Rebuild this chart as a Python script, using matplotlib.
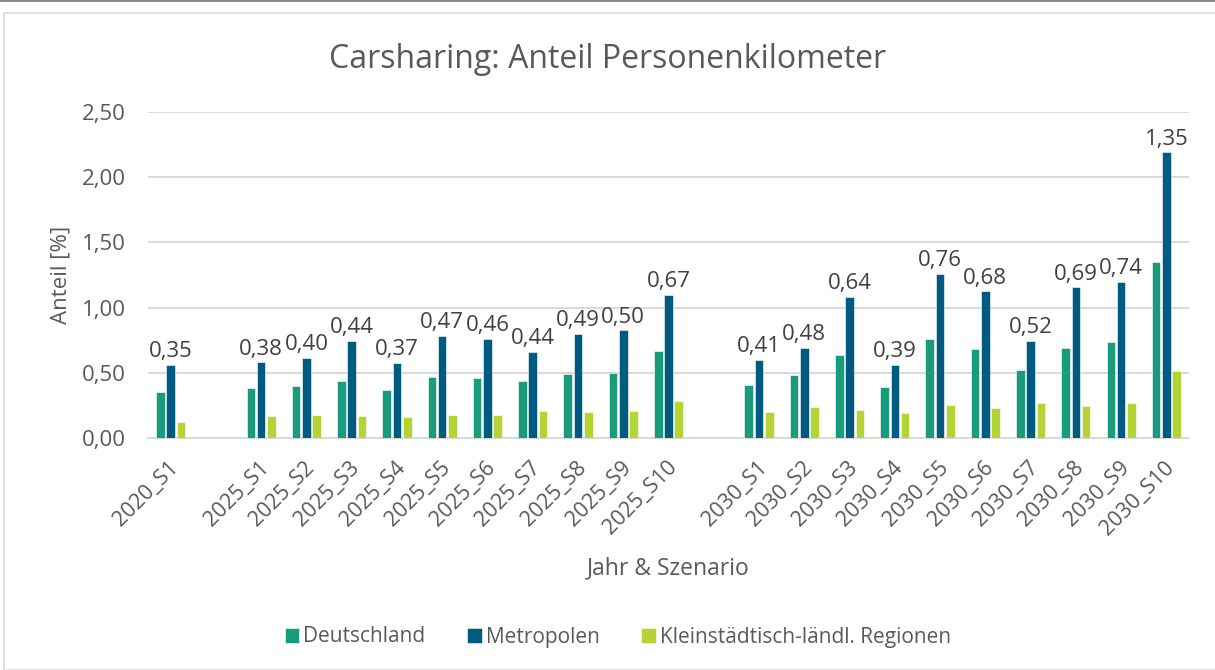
import numpy as np
import matplotlib
matplotlib.use("Agg")
import matplotlib.pyplot as plt
import matplotlib.transforms as mtransforms
from matplotlib.patches import Rectangle

plt.rcParams['font.family'] = ['Open Sans', 'DejaVu Sans']

# categories ("" = empty gap slots between years)
categories = ["2020_S1", "",
              "2025_S1", "2025_S2", "2025_S3", "2025_S4", "2025_S5",
              "2025_S6", "2025_S7", "2025_S8", "2025_S9", "2025_S10", "",
              "2030_S1", "2030_S2", "2030_S3", "2030_S4", "2030_S5",
              "2030_S6", "2030_S7", "2030_S8", "2030_S9", "2030_S10"]

deutschland = [0.35, np.nan,
               0.38, 0.40, 0.44, 0.37, 0.47, 0.46, 0.44, 0.49, 0.50, 0.67, np.nan,
               0.41, 0.48, 0.64, 0.39, 0.76, 0.68, 0.52, 0.69, 0.74, 1.35]
metropolen = [0.56, np.nan,
              0.58, 0.615, 0.745, 0.578, 0.785, 0.76, 0.66, 0.80, 0.825, 1.10, np.nan,
              0.60, 0.69, 1.085, 0.56, 1.26, 1.125, 0.745, 1.155, 1.195, 2.19]
klein = [0.125, np.nan,
         0.165, 0.175, 0.17, 0.16, 0.18, 0.175, 0.205, 0.20, 0.205, 0.285, np.nan,
         0.20, 0.235, 0.215, 0.19, 0.25, 0.23, 0.27, 0.245, 0.265, 0.515]

series_names = ["Deutschland", "Metropolen", "Kleinstädtisch-ländl. Regionen"]
colors = ["#1A9B7C", "#015A80", "#B4D335"]

yticks = [0.0, 0.5, 1.0, 1.5, 2.0, 2.5]

txt = "#595959"
grid = "#D9D9D9"

fig = plt.figure(figsize=(12.15, 6.70), dpi=100)

# chart frame
fig.patches.append(Rectangle((4 / 1215, 0), 1.0, 1 - 13 / 670, transform=fig.transFigure,
                             fill=False, edgecolor="#D9D9D9", linewidth=1.2))
fig.patches.append(Rectangle((0, 1 - 2 / 670), 1.0, 2 / 670, transform=fig.transFigure,
                             facecolor="#8C8C8C", edgecolor="none"))

ax = fig.add_axes([148 / 1215, 1 - 438 / 670, (1189 - 148) / 1215, (438 - 112) / 670])

x = np.arange(len(categories))
w = 0.19
off = 0.227
for i, (vals, c, name) in enumerate(zip([deutschland, metropolen, klein], colors, series_names)):
    ax.bar(x + (i - 1) * off, vals, width=w, color=c, label=name,
           edgecolor="white", linewidth=0.4, zorder=3)

# data labels (Deutschland value, above the group)
for xi, d, m in zip(x, deutschland, metropolen):
    if np.isnan(d):
        continue
    ax.annotate(f"{d:.2f}".replace(".", ","), (xi, m), xytext=(0, 2),
                textcoords="offset points", ha="center", va="bottom",
                fontsize=16, color="#404040")

ax.set_xlim(-0.5, len(categories) - 0.5)
ax.set_ylim(0, 2.5)
ax.set_yticks(yticks)
ax.set_yticklabels([f"{v:.2f}".replace(".", ",") for v in yticks], fontsize=16, color=txt)
ax.set_xticks(x)
ax.set_xticklabels(categories, rotation=45, ha="right", va="center",
                   rotation_mode="anchor", fontsize=15.5, color=txt)
ax.tick_params(axis="x", length=0, pad=19)
ax.tick_params(axis="y", length=0, pad=16)
shift = mtransforms.ScaledTranslation(5 / 100, 0, fig.dpi_scale_trans)
for lbl in ax.get_xticklabels():
    lbl.set_transform(lbl.get_transform() + shift)

ax.grid(axis="y", color=grid, linewidth=1.4, zorder=0)
for s in ["top", "right", "left"]:
    ax.spines[s].set_visible(False)
ax.spines["bottom"].set_color(grid)
ax.spines["bottom"].set_linewidth(1.4)

ax.set_ylabel("Anteil [%]", fontsize=16, color=txt)
ax.yaxis.set_label_coords(-(148 - 72) / (1189 - 148), 0.5)
ax.set_xlabel("Jahr & Szenario", fontsize=16.5, color=txt)
ax.xaxis.set_label_coords(0.5, -(556 - 438) / (438 - 112))

fig.text(0.5, 1 - 60 / 670, "Carsharing: Anteil Personenkilometer", ha="center", va="center",
         fontsize=23, color=txt)

fig.legend(loc="center", bbox_to_anchor=(618 / 1215, 1 - 637 / 670), ncol=3, frameon=False,
           fontsize=15, labelcolor=txt, handlelength=0.7, handleheight=0.7,
           handletextpad=0.2, columnspacing=2.0)

fig.savefig("out.png", dpi=100)
